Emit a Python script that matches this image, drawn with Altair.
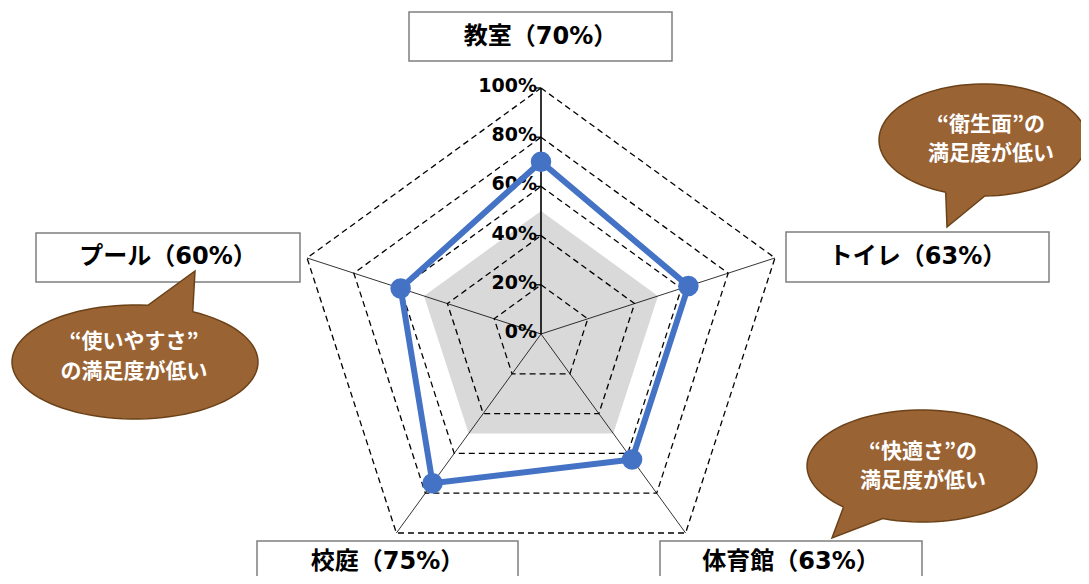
import math
import altair as alt
import pandas as pd

# ---------------- data ----------------
categories = ["教室", "トイレ", "体育館", "校庭", "プール"]
values = [70, 63, 63, 75, 60]
reference = [50, 50, 50, 50, 50]
grid_levels = [20, 40, 60, 80, 100]
tick_levels = [0, 20, 40, 60, 80, 100]
bubble_line1 = ["“衛生面”の", "“使いやすさ”", "“快適さ”の"]
bubble_line2 = ["満足度が低い", "の満足度が低い", "満足度が低い"]

# ---------------- layout (page pixels) ----------------
W, H = 1073, 568
CX, CY, R = 541, 334, 246
label_boxes = [(409, 672, 12, 61), (786, 1049, 232, 282), (660, 922, 541, 620),
               (257, 518, 541, 620), (36, 300, 233, 282)]
label_text_y = [37, 257, 562, 562, 257]
# ellipse cx, cy, rx, ry, tail angle start/end (deg), tip x, tip y, text x, line ys
bubbles = [
    (983, 140, 104, 56, 89, 111, 947, 227, 991, 125, 154),
    (135, 362, 123, 57, 276, 298, 195, 271, 134, 342, 372),
    (922, 466, 115, 56, 110, 133, 832, 538, 923, 452, 481),
]

BLUE = "#4472C4"
BROWN = "#9A6334"
FONT = "Noto Sans CJK JP"
MIXFONT = "DejaVu Sans, Noto Sans CJK JP"

xs = alt.Scale(domain=[8, 8 + W], nice=False, zero=False)
ys = alt.Scale(domain=[8, 8 + H], nice=False, zero=False, reverse=True)


def X(f="x"):
    return alt.X(f"{f}:Q", scale=xs, axis=None)


def Y(f="y"):
    return alt.Y(f"{f}:Q", scale=ys, axis=None)


def polar(i, v):
    a = math.radians(72 * i)
    return CX + v / 100 * R * math.sin(a), CY - v / 100 * R * math.cos(a)


def ring(vals, key):
    rows = []
    n = len(vals)
    for k in range(n + 1):
        i = k % n
        x, y = polar(i, vals[i])
        rows.append({"x": x, "y": y, "k": k, "g": key})
    return rows


# reference (gray) area
ref_df = pd.DataFrame(ring(reference, "ref"))
ref_layer = alt.Chart(ref_df).mark_line(fill="#D9D9D9", strokeWidth=0, strokeOpacity=0).encode(
    x=X(), y=Y(), order="k:Q")

# grid rings
grid_rows = []
for lv in grid_levels:
    grid_rows += ring([lv] * len(categories), str(lv))
grid_df = pd.DataFrame(grid_rows)
grid_layer = alt.Chart(grid_df).mark_line(color="black", strokeWidth=1.3, strokeDash=[6, 4]).encode(
    x=X(), y=Y(), detail="g:N", order="k:Q")

# spokes
spoke_rows = []
for i, c in enumerate(categories):
    x2, y2 = polar(i, 100)
    spoke_rows.append({"x": CX, "y": CY, "x2": x2, "y2": y2, "main": i == 0})
spoke_df = pd.DataFrame(spoke_rows)
spokes = alt.Chart(spoke_df).transform_filter("!datum.main").mark_rule(color="black", strokeWidth=0.8).encode(
    x=X(), y=Y(), x2="x2:Q", y2="y2:Q")
main_axis = alt.Chart(spoke_df).transform_filter("datum.main").mark_rule(color="black", strokeWidth=1.6).encode(
    x=X(), y=Y(), x2="x2:Q", y2="y2:Q")

# axis ticks + labels
tick_df = pd.DataFrame({"lv": tick_levels})
tick_df["y"] = [polar(0, v)[1] for v in tick_levels]
tick_df["x"] = CX - 5
tick_df["x2"] = CX
tick_df["label"] = [f"{v}%" for v in tick_levels]
tick_marks = alt.Chart(tick_df).transform_filter("datum.lv > 0").mark_rule(color="black", strokeWidth=1.3).encode(
    x=X(), x2="x2:Q", y=Y())
tick_labels = alt.Chart(tick_df).mark_text(
    align="right", baseline="middle", dx=-4, dy=-2, font="DejaVu Sans", fontSize=19, fontWeight="bold",
    color="black").encode(x=alt.X("x2:Q", scale=xs, axis=None), y=Y(), text="label:N")

# data series
ser_df = pd.DataFrame(ring(values, "v"))
ser_line = alt.Chart(ser_df).mark_line(color=BLUE, strokeWidth=6, strokeJoin="miter").encode(
    x=X(), y=Y(), order="k:Q")
pt_df = ser_df[ser_df["k"] < len(values)]
ser_pts = alt.Chart(pt_df).mark_circle(color=BLUE, size=420, opacity=1).encode(x=X(), y=Y())

# category label boxes
box_df = pd.DataFrame({
    "x": [b[0] for b in label_boxes], "x2": [b[1] for b in label_boxes],
    "y": [b[2] for b in label_boxes], "y2": [b[3] for b in label_boxes],
    "ty": label_text_y,
    "label": [f"{c}（{v}%）" for c, v in zip(categories, values)],
})
box_df["tx"] = (box_df["x"] + box_df["x2"]) / 2
boxes = alt.Chart(box_df).mark_rect(fill="white", stroke="#7F7F7F", strokeWidth=1.5).encode(
    x=X(), x2="x2:Q", y=Y(), y2="y2:Q")
box_text = alt.Chart(box_df).mark_text(
    align="center", baseline="middle", font=MIXFONT, fontSize=24, fontWeight="bold", color="black").encode(
    x=X("tx"), y=Y("ty"), text="label:N")

# speech bubbles
bub_rows = []
for b, (bx, by, rx, ry, t0, t1, tx, ty, _, _, _) in enumerate(bubbles):
    k = 0
    steps = 90
    start, end = t1, t0 + 360
    for s in range(steps + 1):
        t = math.radians(start + (end - start) * s / steps)
        bub_rows.append({"x": bx + rx * math.cos(t), "y": by + ry * math.sin(t), "k": k, "b": b})
        k += 1
    bub_rows.append({"x": tx, "y": ty, "k": k, "b": b})
    k += 1
    t = math.radians(start)
    bub_rows.append({"x": bx + rx * math.cos(t), "y": by + ry * math.sin(t), "k": k, "b": b})
bub_df = pd.DataFrame(bub_rows)
bubble_shapes = alt.Chart(bub_df).mark_line(fill=BROWN, stroke="#6B4218", strokeWidth=1.5).encode(
    x=X(), y=Y(), detail="b:N", order="k:Q")

txt_rows = []
for b, bb in enumerate(bubbles):
    txt_rows.append({"x": bb[8], "y": bb[9], "t": bubble_line1[b]})
    txt_rows.append({"x": bb[8], "y": bb[10], "t": bubble_line2[b]})
txt_df = pd.DataFrame(txt_rows)
bubble_text = alt.Chart(txt_df).mark_text(
    align="center", baseline="middle", font=FONT, fontSize=21, fontWeight="bold", color="white").encode(
    x=X(), y=Y(), text="t:N")

chart = alt.layer(
    ref_layer, grid_layer, spokes, main_axis, tick_marks, tick_labels,
    ser_line, ser_pts, boxes, box_text, bubble_shapes, bubble_text,
).properties(
    width=W, height=H, autosize=alt.AutoSizeParams(type="none"), padding=0,
).configure_view(stroke=None)

chart.save("out.html", embed_options={"renderer": "svg", "actions": False})
